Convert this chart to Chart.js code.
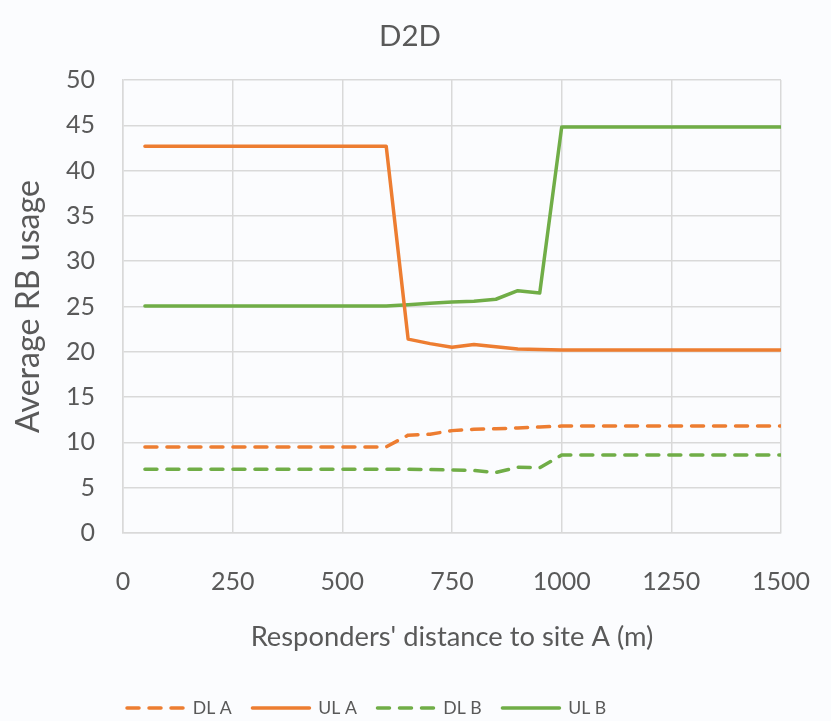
<!DOCTYPE html>
<html>
<head>
<meta charset="utf-8">
<script src="https://cdn.jsdelivr.net/npm/chart.js@4"></script>
<style>
  html, body { margin: 0; padding: 0; background: #fbfcfe; }
  #wrap { width: 831px; height: 721px; position: relative; }
</style>
</head>
<body>
<div id="wrap"><canvas id="c"></canvas></div>
<script>
// ---- data ----
const distances = [50,100,150,200,250,300,350,400,450,500,550,600,650,700,750,800,850,900,950,1000,1050,1100,1150,1200,1250,1300,1350,1400,1450,1500];
const dlA = [9.5,9.5,9.5,9.5,9.5,9.5,9.5,9.5,9.5,9.5,9.5,9.5,10.8,10.9,11.3,11.45,11.5,11.6,11.7,11.8,11.8,11.8,11.8,11.8,11.8,11.8,11.8,11.8,11.8,11.8];
const ulA = [42.7,42.7,42.7,42.7,42.7,42.7,42.7,42.7,42.7,42.7,42.7,42.7,21.4,20.9,20.5,20.8,20.55,20.3,20.25,20.2,20.2,20.2,20.2,20.2,20.2,20.2,20.2,20.2,20.2,20.2];
const dlB = [7.05,7.05,7.05,7.05,7.05,7.05,7.05,7.05,7.05,7.05,7.05,7.05,7.05,7.0,6.95,6.9,6.68,7.25,7.2,8.6,8.6,8.6,8.6,8.6,8.6,8.6,8.6,8.6,8.6,8.6];
const ulB = [25.05,25.05,25.05,25.05,25.05,25.05,25.05,25.05,25.05,25.05,25.05,25.05,25.2,25.35,25.5,25.57,25.8,26.75,26.5,44.8,44.8,44.8,44.8,44.8,44.8,44.8,44.8,44.8,44.8,44.8];
const seriesNames = ['DL A', 'UL A', 'DL B', 'UL B'];
const chartTitle = 'D2D';
const xTitle = "Responders' distance to site A (m)";
const yTitle = 'Average RB usage';

// ---- styling ----
const FAMILY = 'Lato, "Open Sans", sans-serif';
const TEXT = '#595959';
const GRID = '#d9d9d9';
const ORANGE = '#ED7D31';
const GREEN = '#70AD47';

const mctx = document.createElement('canvas').getContext('2d');
function fitSize(text, target) {
  mctx.font = '100px ' + FAMILY;
  return target / mctx.measureText(text).width * 100;
}
const titleFs = fitSize(chartTitle, 62);
const tickFs = fitSize('1000', 58);
const xTitleFs = fitSize(xTitle, 403);
const yTitleFs = fitSize(yTitle, 253);
const legendFs = fitSize('DL A', 39);

const AREA = { left: 123, right: 781, top: 80, bottom: 533 };
const LINE_W = 57;
const LEG_PAD = Math.max(4, 125.5 - LINE_W - legendFs / 2 - 39);
const LEG_H = 50;
const X_BOTTOM = 721 - LEG_H;
const X_TICK_GAP = 582 - AREA.bottom - tickFs * 0.6;

const toXY = arr => arr.map((v, i) => ({ x: distances[i], y: v }));

const bgPlugin = {
  id: 'bg',
  beforeDraw(chart) {
    const c = chart.ctx;
    c.save();
    c.fillStyle = '#fbfcfe';
    c.fillRect(0, 0, chart.width, chart.height);
    c.restore();
  }
};
const placeBlocks = {
  id: 'placeBlocks',
  beforeLayout(chart) {
    const l = chart.legend;
    if (l && !l._fixedH) {
      const f = l.fit.bind(l);
      l.fit = function () { f(); this.height = LEG_H; };
      l._fixedH = true;
    }
  },
  afterLayout(chart) {
    const l = chart.legend;
    if (l) {
      const dy = 708 - (l.top + LEG_PAD + legendFs / 2);
      l.top += dy; l.bottom += dy;
      const dx = 127 - (l.left + LEG_PAD);
      l.left += dx;
    }
    const t = chart.titleBlock;
    if (t) {
      const dx = 410 - (t.left + t.right) / 2;
      t.left += dx; t.right += dx;
    }
  }
};

new Chart(document.getElementById('c'), {
  type: 'line',
  data: {
    datasets: [
      { label: seriesNames[0], data: toXY(dlA), borderColor: ORANGE, backgroundColor: ORANGE, borderDash: [12, 10], borderCapStyle: 'round' },
      { label: seriesNames[1], data: toXY(ulA), borderColor: ORANGE, backgroundColor: ORANGE, borderCapStyle: 'round' },
      { label: seriesNames[2], data: toXY(dlB), borderColor: GREEN, backgroundColor: GREEN, borderDash: [12, 10], borderCapStyle: 'round' },
      { label: seriesNames[3], data: toXY(ulB), borderColor: GREEN, backgroundColor: GREEN, borderCapStyle: 'round' }
    ]
  },
  options: {
    responsive: true,
    maintainAspectRatio: false,
    animation: false,
    devicePixelRatio: 1,
    layout: { padding: { left: 0, right: 831 - AREA.right, top: 0, bottom: 0 } },
    elements: {
      point: { radius: 0, hoverRadius: 0 },
      line: { borderWidth: 3.5, tension: 0, fill: false, borderJoinStyle: 'round' }
    },
    plugins: {
      tooltip: { enabled: false },
      title: {
        display: true,
        text: chartTitle,
        color: TEXT,
        font: { family: FAMILY, size: titleFs, weight: 'normal', lineHeight: 1.2 },
        padding: { top: 36 - titleFs * 0.6, bottom: AREA.top - (36 - titleFs * 0.6) - titleFs * 1.2 }
      },
      legend: {
        display: true,
        position: 'bottom',
        align: 'start',
        labels: {
          color: TEXT,
          font: { family: FAMILY, size: legendFs },
          usePointStyle: true,
          pointStyle: 'line',
          pointStyleWidth: LINE_W,
          padding: LEG_PAD,
          boxHeight: legendFs,
          generateLabels(chart) {
            return chart.data.datasets.map((ds, i) => ({
              text: ds.label,
              fillStyle: ds.borderColor,
              strokeStyle: ds.borderColor,
              fontColor: TEXT,
              lineWidth: 3.5,
              lineDash: ds.borderDash || [],
              lineCap: 'round',
              pointStyle: 'line',
              hidden: false,
              datasetIndex: i
            }));
          }
        }
      }
    },
    scales: {
      x: {
        type: 'linear',
        min: 0,
        max: 1500,
        ticks: {
          stepSize: 250, color: TEXT, font: { family: FAMILY, size: tickFs },
          padding: 2, maxRotation: 0, autoSkip: false,
          callback: v => String(v)
        },
        grid: { color: GRID, lineWidth: 1.5, drawTicks: true, tickLength: X_TICK_GAP - 2, tickColor: 'rgba(0,0,0,0)' },
        border: { color: GRID, width: 1.5 },
        title: {
          display: true,
          text: xTitle,
          color: TEXT,
          font: { family: FAMILY, size: xTitleFs, weight: 'normal', lineHeight: 1.2 },
          padding: { top: 0, bottom: X_BOTTOM - 637 - xTitleFs * 0.6 }
        },
        afterFit(scale) {
          scale.height = X_BOTTOM - AREA.bottom;
        }
      },
      y: {
        min: 0,
        max: 50,
        ticks: { stepSize: 5, color: TEXT, font: { family: FAMILY, size: tickFs }, padding: AREA.left - 95 },
        grid: { color: GRID, lineWidth: 1.5, drawTicks: false },
        border: { color: GRID, width: 1.5 },
        title: {
          display: true,
          text: yTitle,
          color: TEXT,
          font: { family: FAMILY, size: yTitleFs, weight: 'normal', lineHeight: 1.2 },
          padding: { top: 29 - yTitleFs * 0.6, bottom: 0 }
        },
        afterFit(scale) { scale.width = AREA.left; }
      }
    }
  },
  plugins: [bgPlugin, placeBlocks]
});
</script>
</body>
</html>
